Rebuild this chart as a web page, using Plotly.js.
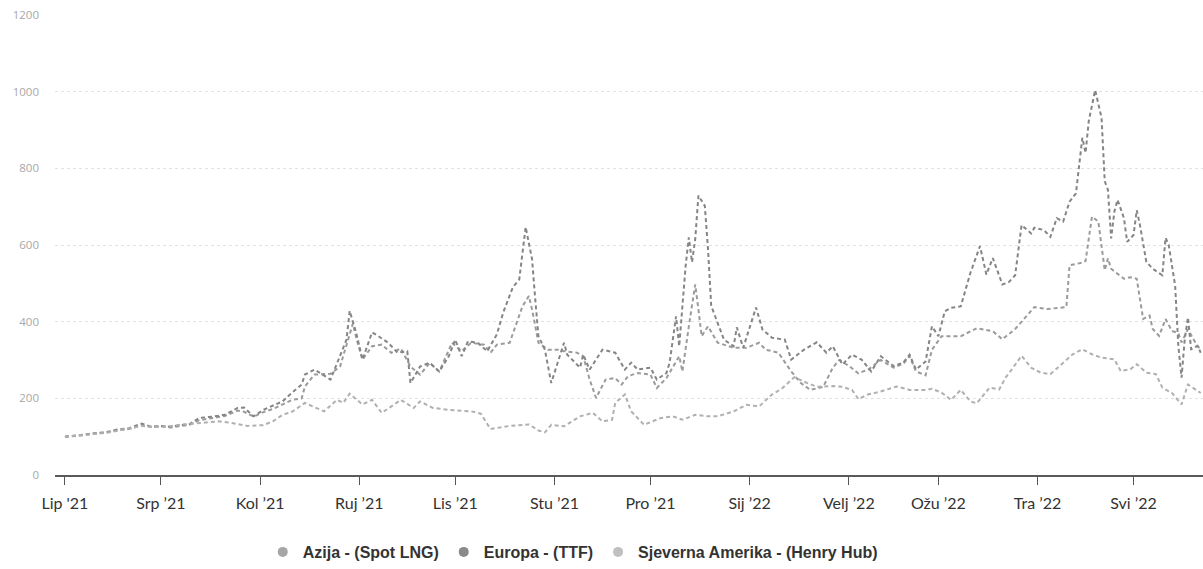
<!DOCTYPE html>
<html>
<head>
<meta charset="utf-8">
<script src="https://cdn.plot.ly/plotly-3.0.1.min.js"></script>
<style>html,body{margin:0;padding:0;background:#fff;}#chart{width:1203px;height:569px;}</style>
</head>
<body>
<div id="chart"></div>
<script>
// Index values (1 June 2021 = 100); days counted from 1 June 2021
const ttfDays = [0,5,9,13,16,20,24,27,30,33,36,39,42,46,50,54,56,59,62,65,68,71,74,75,78,83,86,88,89,91,93,96,98,101,104,107,108,111,114,117,120,122,124,126,129,132,135,137,140,142,144,146,147,148,150,152,154,156,157,161,162,164,168,172,175,177,179,183,185,188,189,191,192,194,195,196,197,198,200,201,202,204,206,209,210,212,216,218,221,225,227,231,235,238,240,243,246,249,252,255,259,262,264,266,269,271,273,275,277,280,283,286,288,290,293,295,297,299,302,303,306,308,310,312,314,316,317,318,319,320,322,324,325,326,327,328,329,331,332,334,335,336,338,340,343,344,345,347,348,349,350,351,352,354,355];
const ttfValues = [100,104,109,112,118,122,134,126,128,126,130,133,149,152,157,175,176,153,170,180,192,215,236,262,275,249,310,353,428,372,301,372,362,345,319,323,240,283,293,270,310,353,310,349,345,323,367,424,490,510,647,563,458,362,327,240,293,345,314,280,314,275,327,319,275,293,275,280,249,266,293,414,336,545,620,555,615,729,702,589,441,398,353,336,385,332,437,380,358,353,301,327,346,319,336,288,314,301,270,310,284,293,314,275,296,388,362,427,436,440,527,597,523,566,497,503,521,652,630,645,639,621,670,661,713,735,801,880,840,923,1004,932,766,744,617,687,718,670,608,626,691,652,556,538,521,619,600,494,337,254,354,411,328,337,319];

const asiaDays = [0,5,9,13,16,20,24,27,30,33,36,39,42,46,50,54,56,59,62,65,68,71,74,75,78,83,86,88,90,91,93,96,99,102,105,108,111,114,117,121,124,127,131,133,135,139,143,145,146,148,151,154,156,160,162,164,166,169,172,174,176,179,183,185,188,192,193,195,197,198,199,201,204,209,213,217,219,223,227,230,233,237,240,242,245,248,251,255,259,262,264,266,269,271,274,280,285,290,293,297,300,303,307,313,314,318,319,321,323,325,326,327,331,333,335,337,339,340,342,344,346,348,349,351,354,355];
const asiaValues = [100,103,108,111,116,120,130,125,127,124,128,131,143,148,154,168,165,152,164,172,185,196,200,231,262,264,283,336,395,360,301,336,340,319,330,283,262,292,270,345,323,345,340,319,340,345,440,467,432,345,327,327,323,319,310,249,201,249,253,236,258,266,262,227,253,310,270,388,497,432,362,388,345,332,332,345,327,319,270,240,222,230,280,300,285,265,275,300,280,290,310,270,260,327,362,362,383,375,354,381,411,438,433,438,547,554,558,674,661,534,565,538,512,516,512,407,416,381,363,407,376,370,346,380,335,330];

const hhDays = [0,5,9,13,16,20,24,27,30,33,36,39,42,48,52,57,62,65,68,71,75,81,85,87,89,93,96,99,105,109,111,115,120,127,130,133,139,145,148,150,152,156,161,165,168,171,172,175,177,181,186,190,193,197,201,204,209,213,217,221,224,228,232,235,240,243,246,248,251,255,260,264,269,271,274,277,280,283,285,289,292,294,296,299,302,305,308,312,315,318,321,324,328,330,333,335,338,341,343,346,349,351,354,355];
const hhValues = [100,103,107,110,115,120,128,126,127,127,131,133,135,140,136,128,130,140,157,165,188,166,196,188,212,184,196,162,196,175,192,175,170,166,160,120,128,132,116,111,131,127,153,162,140,144,188,210,166,131,148,153,144,157,153,153,166,183,179,210,225,255,240,230,232,230,222,198,210,218,231,222,222,225,215,196,222,192,187,228,223,254,276,311,280,267,263,293,315,328,315,306,302,271,276,289,267,263,228,214,184,236,219,214];

const seriesNames = ['Azija - (Spot LNG)', 'Europa - (TTF)', 'Sjeverna Amerika - (Henry Hub)'];
const lineColors = ['#9b9b9b', '#858585', '#b0b0b0'];
const markerColors = ['#a6a6a6', '#8a8a8a', '#c0c0c0'];

const tickVals = ['2021-06-01','2021-07-01','2021-08-01','2021-09-01','2021-10-01','2021-11-01','2021-12-01','2022-01-01','2022-02-01','2022-03-01','2022-04-01','2022-05-01'];
const tickText = ["Lip '21","Srp ’21","Kol ’21","Ruj ’21","Lis ’21","Stu ’21","Pro ’21","Sij ’22","Velj ’22","Ožu ’22","Tra ’22","Svi ’22"];

function toDate(d) {
  const t = Date.UTC(2021, 5, 1) + d * 86400000;
  return new Date(t).toISOString().slice(0, 10);
}

const dayLists = [asiaDays, ttfDays, hhDays];
const valueLists = [asiaValues, ttfValues, hhValues];

const traces = [];
for (let i = 0; i < 3; i++) {
  traces.push({
    type: 'scatter', mode: 'lines',
    x: dayLists[i].map(toDate), y: valueLists[i],
    name: seriesNames[i], showlegend: false,
    line: {color: lineColors[i], width: 2, dash: '4px,3px'},
    hoverinfo: 'skip'
  });
}
for (let i = 0; i < 3; i++) {
  traces.push({
    type: 'scatter', mode: 'markers',
    x: [null], y: [null], name: seriesNames[i], showlegend: true,
    marker: {color: markerColors[i], size: 10, symbol: 'circle'}
  });
}

const layout = {
  width: 1203, height: 569,
  margin: {l: 55, r: 0, t: 15, b: 94},
  paper_bgcolor: '#ffffff', plot_bgcolor: '#ffffff',
  font: {family: 'Liberation Sans, Arial, sans-serif', color: '#333'},
  showlegend: true,
  legend: {
    orientation: 'h', x: 0.451, xanchor: 'center', y: -0.168, yanchor: 'middle',
    font: {family: 'Liberation Sans, Arial, sans-serif', size: 16, color: '#333', weight: 'bold'},
    itemclick: false
  },
  xaxis: {
    type: 'date',
    range: ['2021-05-28 21:30', '2022-05-22 17:00'],
    tickmode: 'array', tickvals: tickVals, ticktext: tickText,
    showgrid: false, zeroline: false,
    showline: true, linecolor: '#5a5a5a', linewidth: 2,
    ticks: 'outside', ticklen: 8, tickwidth: 1, tickcolor: '#555',
    ticklabelstandoff: 5,
    tickfont: {family: 'Lato, sans-serif', size: 16, color: '#333'}
  },
  yaxis: {
    range: [0, 1200], tickmode: 'linear', tick0: 0, dtick: 200,
    showgrid: true, gridcolor: '#e2e2e2', griddash: 'dot', gridwidth: 1,
    zeroline: false, showline: false, ticks: '',
    ticklabelstandoff: 15,
    tickfont: {family: 'Open Sans, sans-serif', size: 11.5, color: '#a8a8a8'}
  }
};

Plotly.newPlot('chart', traces, layout, {displayModeBar: false, staticPlot: true});
</script>
</body>
</html>
